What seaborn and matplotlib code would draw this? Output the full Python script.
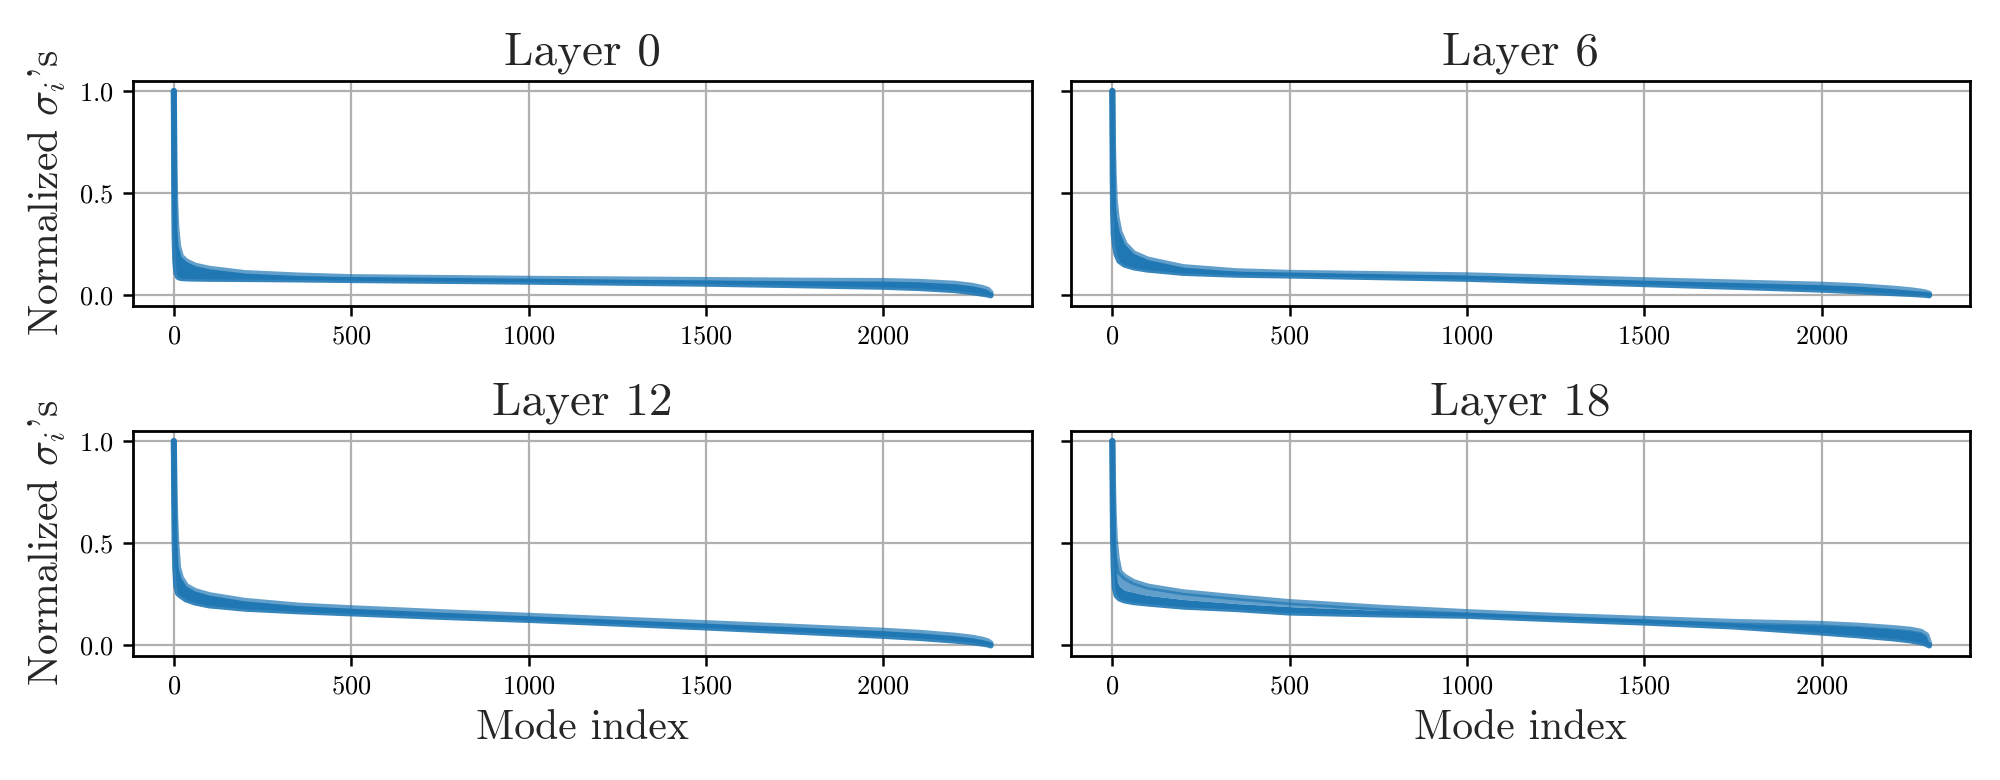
import numpy as np
import pandas as pd
import matplotlib
matplotlib.use("Agg")
import matplotlib.pyplot as plt
import seaborn as sns

# ---------------- data ----------------
layers = [0, 6, 12, 18]
mode_idx = [0, 1, 2, 4, 7, 12, 20, 35, 60, 100, 200, 350, 500, 750, 1000,
            1250, 1500, 1750, 2000, 2100, 2200, 2250, 2280, 2295, 2303]

# upper / lower envelope of the overlapping normalized spectra
l0_hi = [1.0, 0.80, 0.62, 0.45, 0.33, 0.24, 0.19, 0.166, 0.145, 0.13, 0.109, 0.097, 0.089, 0.085, 0.081,
         0.078, 0.075, 0.072, 0.070, 0.066, 0.057, 0.047, 0.036, 0.027, 0.012]
l0_lo = [1.0, 0.50, 0.30, 0.17, 0.11, 0.090, 0.085, 0.083, 0.082, 0.081, 0.080, 0.078, 0.075, 0.071, 0.067,
         0.062, 0.057, 0.050, 0.042, 0.036, 0.026, 0.016, 0.008, 0.004, 0.0]

l6_hi = [1.0, 0.85, 0.72, 0.58, 0.46, 0.38, 0.31, 0.25, 0.205, 0.175, 0.138, 0.118, 0.110, 0.104, 0.098,
         0.086, 0.074, 0.063, 0.052, 0.045, 0.033, 0.025, 0.018, 0.013, 0.008]
l6_lo = [1.0, 0.60, 0.42, 0.30, 0.25, 0.20, 0.168, 0.150, 0.137, 0.126, 0.110, 0.101, 0.097, 0.089, 0.081,
         0.068, 0.055, 0.042, 0.028, 0.020, 0.011, 0.007, 0.004, 0.002, 0.0]

l12_hi = [1.0, 0.88, 0.75, 0.62, 0.50, 0.38, 0.33, 0.29, 0.266, 0.246, 0.218, 0.195, 0.182, 0.163, 0.145,
          0.127, 0.109, 0.091, 0.072, 0.062, 0.048, 0.038, 0.028, 0.020, 0.010]
l12_lo = [1.0, 0.70, 0.52, 0.38, 0.29, 0.255, 0.243, 0.225, 0.21, 0.196, 0.18, 0.167, 0.157, 0.140, 0.125,
          0.107, 0.088, 0.068, 0.047, 0.037, 0.024, 0.016, 0.009, 0.005, 0.0]

l18_hi = [1.0, 0.90, 0.78, 0.64, 0.52, 0.43, 0.36, 0.335, 0.31, 0.288, 0.26, 0.235, 0.212, 0.185, 0.163,
          0.145, 0.13, 0.115, 0.105, 0.097, 0.085, 0.077, 0.067, 0.05, 0.01]
l18_core = [1.0, 0.80, 0.62, 0.48, 0.38, 0.32, 0.29, 0.27, 0.26, 0.245, 0.225, 0.205, 0.19, 0.172, 0.158,
            0.14, 0.124, 0.108, 0.100, 0.093, 0.081, 0.073, 0.063, 0.046, 0.005]
l18_lo = [1.0, 0.70, 0.52, 0.38, 0.28, 0.245, 0.23, 0.22, 0.212, 0.205, 0.19, 0.178, 0.161, 0.152, 0.145,
          0.128, 0.112, 0.093, 0.063, 0.050, 0.035, 0.025, 0.015, 0.008, 0.0]

highs = [l0_hi, l6_hi, l12_hi, l18_hi]
cores = [l0_hi, l6_hi, l12_hi, l18_core]
lows = [l0_lo, l6_lo, l12_lo, l18_lo]

y_ticks = [0.0, 0.5, 1.0]
x_ticks = [0, 500, 1000, 1500, 2000]

# ---------------- style ----------------
sns.set_style("ticks")
plt.rcParams.update({
    "font.family": "serif",
    "font.serif": ["cmr10"],
    "mathtext.fontset": "cm",
    "axes.formatter.use_mathtext": True,
    "axes.edgecolor": "black",
    "axes.linewidth": 1.0,
    "xtick.color": "black",
    "ytick.color": "black",
    "xtick.labelsize": 9.5,
    "ytick.labelsize": 9.5,
    "xtick.major.width": 0.9,
    "ytick.major.width": 0.9,
    "xtick.major.size": 3.5,
    "ytick.major.size": 3.5,
})

blue = "#1f77b4"

fig, axes = plt.subplots(2, 2, figsize=(10, 3.9), dpi=200, sharey=True)
fig.subplots_adjust(left=0.0665, right=0.985, top=0.8965, bottom=0.1594,
                    wspace=0.0445, hspace=0.557)

for k, ax in enumerate(axes.flat):
    df = pd.DataFrame({"mode": mode_idx, "lo": lows[k], "core": cores[k], "hi": highs[k]})
    ax.fill_between(df["mode"], df["core"], df["hi"], color=blue, alpha=0.7, lw=0, zorder=2)
    sns.lineplot(data=df, x="mode", y="hi", ax=ax, color=blue, lw=2.2, alpha=0.7,
                 sort=False, zorder=2.5)
    sns.lineplot(data=df, x="mode", y="lo", ax=ax, color=blue, lw=2.2, alpha=0.9,
                 sort=False, zorder=2.6)
    ax.fill_between(df["mode"], df["lo"], df["core"], color=blue, alpha=1.0, lw=0, zorder=3)
    ax.set_title(f"Layer {layers[k]}", fontsize=17, pad=6)
    ax.grid(True, color="#b0b0b0", lw=0.8)
    ax.set_axisbelow(True)
    ax.set_xticks(x_ticks)
    ax.set_yticks(y_ticks)
    ax.set_xlabel("")
    ax.set_ylabel("")
    for s in ax.spines.values():
        s.set_visible(True)
        s.set_color("black")
        s.set_linewidth(1.0)

for ax in axes[:, 0]:
    ax.set_ylabel(r"Normalized $\sigma_i$'s", fontsize=15, labelpad=4)
for ax in axes[1, :]:
    ax.set_xlabel("Mode index", fontsize=15, labelpad=4)

fig.savefig("out.png", dpi=200)
